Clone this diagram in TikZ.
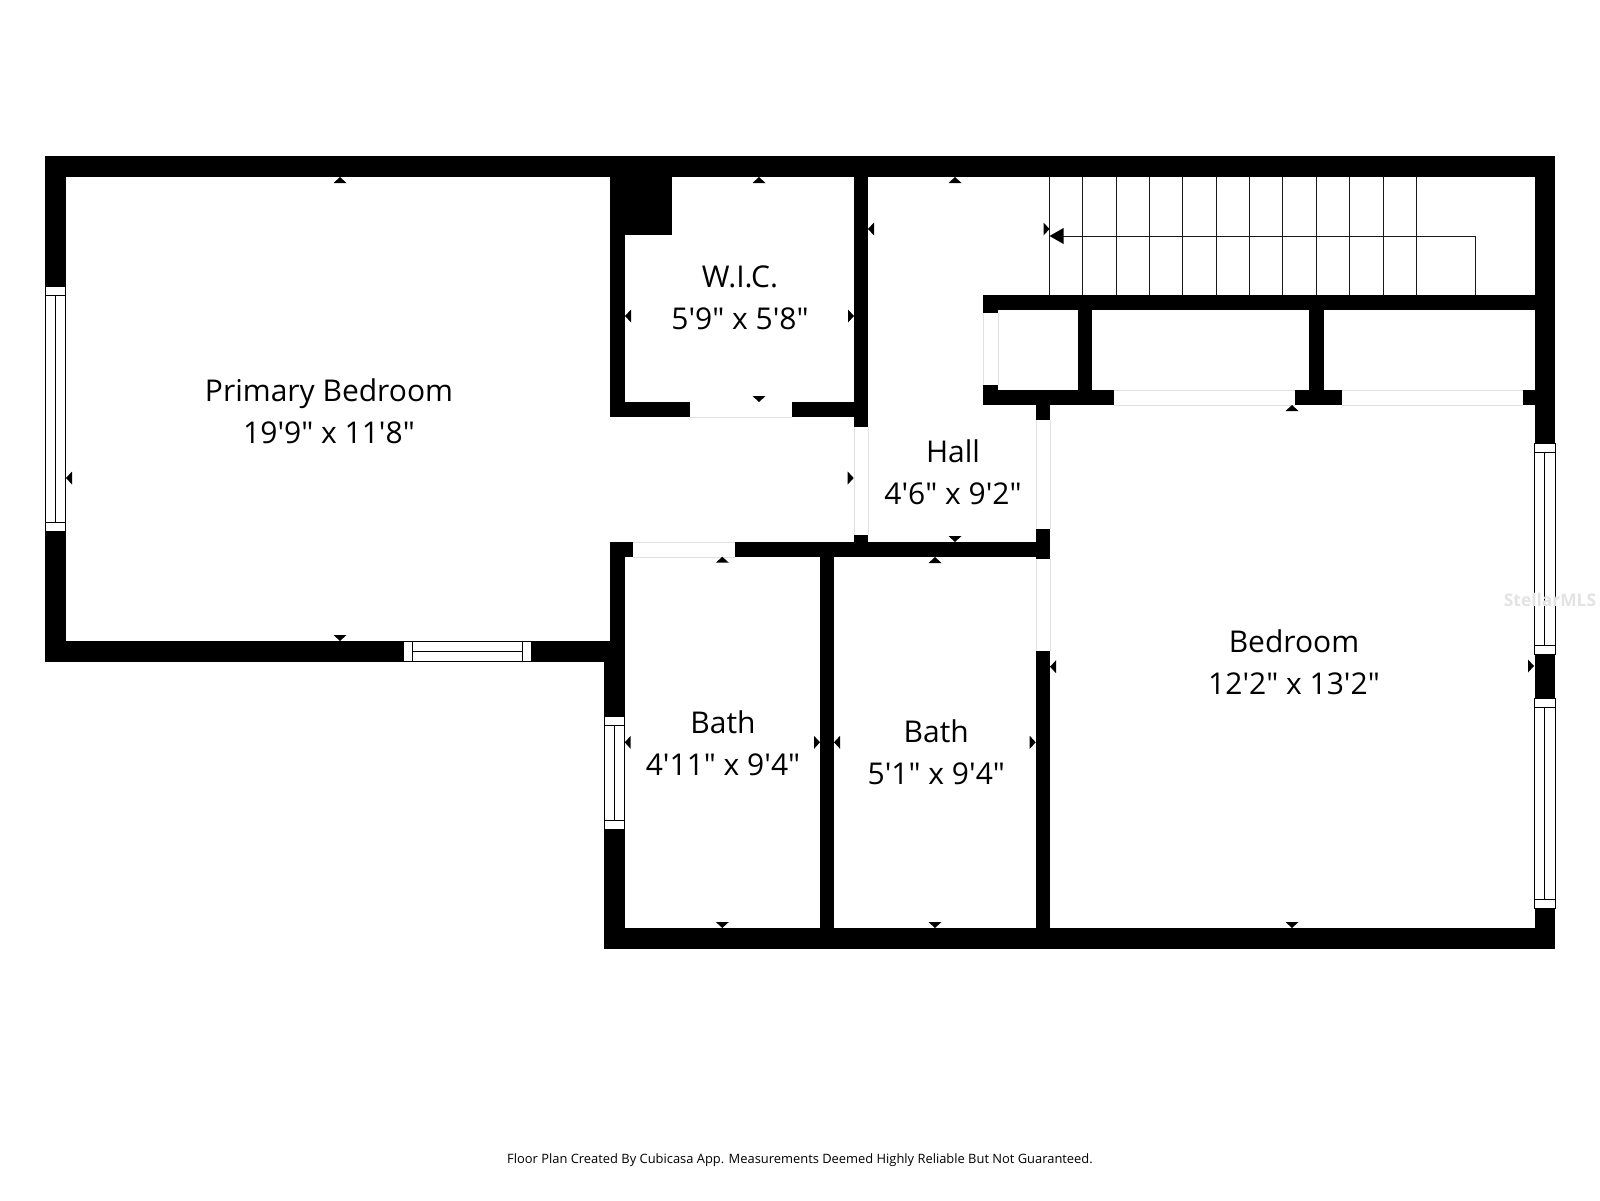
\documentclass[tikz,border=0pt]{standalone}
\usepackage{fontspec}
\newfontfamily\planfont{Open Sans}
\newcommand{\wall}[4]{\fill[wallfill] (#1,#2) rectangle (#3,#4);}
\newcommand{\winV}[4]{%
  \draw[winline,fill=white] (#1,#3) rectangle (#2,#4);
  \draw[winline] (#1,#3+9) -- (#2,#3+9) (#1,#4-9) -- (#2,#4-9) ({(#1+#2)/2},#3+9) -- ({(#1+#2)/2},#4-9);}
\newcommand{\winH}[4]{%
  \draw[winline,fill=white] (#1,#3) rectangle (#2,#4);
  \draw[winline] (#1+9,#3) -- (#1+9,#4) (#2-9,#3) -- (#2-9,#4) (#1+9,{(#3+#4)/2}) -- (#2-9,{(#3+#4)/2});}
\newcommand{\doorV}[4]{\draw[doorline] (#1,#3) -- (#1,#4) (#2,#3) -- (#2,#4);}
\newcommand{\doorH}[4]{\draw[doorline] (#1,#3) -- (#2,#3) (#1,#4) -- (#2,#4);}
\tikzset{
  wallfill/.style={fill=black},
  winline/.style={draw=black,line width=1pt},
  doorline/.style={draw=black!12,line width=0.8pt},
  stair/.style={draw=black!90,line width=1pt},
  roomlabel/.style={font=\planfont\fontsize{30}{42}\selectfont,align=center,inner sep=0pt,text=black},
  footer/.style={font=\planfont\fontsize{12.9}{16}\selectfont,inner sep=0pt,text=black},
  wmark/.style={font=\planfont\bfseries\fontsize{17.4}{20}\selectfont,inner sep=0pt,text=black!11}
}
\begin{document}
\begin{tikzpicture}[x=1pt,y=-1pt]
\useasboundingbox (0,0) rectangle (1600,1200);
\fill[white] (0,0) rectangle (1600,1200);
% stairs
\foreach \sx in {1049.5,1082.8,1116.1,1149.5,1182.8,1216.1,1249.5,1282.8,1316.1,1349.5,1383.1,1416.5}
  \draw[stair] (\sx,177) -- (\sx,295);
\draw[stair] (1475.5,295) -- (1475.5,236) -- (1060,236);
\fill[black] (1049.5,236) -- (1063.5,228) -- (1063.5,244) -- cycle;
% doors
\draw[doorline] (690,417) -- (792,417);
\doorV{854}{868}{427}{535}
\doorV{1036}{1050}{420}{529}
\doorV{1036}{1050}{559}{651}
\doorH{633}{735}{542}{557}
\doorV{983}{998}{313}{385}
\doorH{1114.4}{1295.4}{390}{405}
\doorH{1342}{1523}{390}{405}
% walls
\wall{45}{156}{1555}{177}
\wall{45}{156}{66}{286}
\wall{45}{531}{66}{661.5}
\wall{45}{641}{403.6}{661.5}
\wall{531}{641}{625}{661.5}
\wall{610}{177}{625}{417}
\wall{610}{177}{672}{235}
\wall{610}{402}{690}{417}
\wall{792}{402}{854}{417}
\wall{854}{156}{868}{427}
\wall{854}{535}{868}{557}
\wall{735}{542}{1036}{557}
\wall{610}{542}{633}{557}
\wall{610}{542}{625}{641}
\wall{604}{641}{625}{716}
\wall{604}{829}{625}{949}
\wall{604}{928}{1555}{949}
\wall{820}{542}{834}{949}
\wall{1036}{651}{1050}{949}
\wall{1036}{529}{1050}{559}
\wall{1036}{405}{1050}{420}
\wall{983}{295}{1555}{310}
\wall{983}{295}{998}{313}
\wall{983}{385}{998}{405}
\wall{983}{390}{1114.4}{405}
\wall{1078}{295}{1092}{405}
\wall{1309}{295}{1324}{405}
\wall{1295.4}{390}{1342}{405}
\wall{1523}{390}{1535}{405}
\wall{1535}{156}{1555}{443}
\wall{1535}{654}{1555}{698}
\wall{1535}{908.6}{1555}{949}
% windows
\winV{45.5}{65.6}{286}{531}
\winV{604.7}{624.5}{716}{829}
\winV{1534.7}{1555}{443}{654}
\winV{1534.7}{1555}{698}{908.6}
\winH{403.6}{531}{641}{661}
% dimension marks: apex on the wall
\foreach \mx/\my in {340/177,759/177,955/177,722.3/556.7,935/557,1292/405}
  \fill[black] (\mx,\my) -- (\mx-6.5,\my+6) -- (\mx+6.5,\my+6) -- cycle;
\foreach \mx/\my in {340/641,759/402,955/542,722.3/928,935/928,1292/928}
  \fill[black] (\mx,\my) -- (\mx-6.5,\my-6) -- (\mx+6.5,\my-6) -- cycle;
\foreach \mx/\my in {66/478,625/316,868/229,624.7/742.3,834/742.3,1050/666.7}
  \fill[black] (\mx,\my) -- (\mx+6,\my-6.5) -- (\mx+6,\my+6.5) -- cycle;
\foreach \mx/\my in {854/316,853.7/478,1049.5/229,820/742.3,1035.7/742.3,1534/666}
  \fill[black] (\mx,\my) -- (\mx-6,\my-6.5) -- (\mx-6,\my+6.5) -- cycle;
% labels
\node[roomlabel] (primary) at (329,413.7) {\strut Primary Bedroom\\\strut 19'9" x 11'8"};
\node[roomlabel] (wic) at (740,299.7) {\strut W.I.C.\\\strut 5'9" x 5'8"};
\node[roomlabel] (hall) at (953,475.4) {\strut Hall\\\strut 4'6" x 9'2"};
\node[roomlabel] (bathone) at (723,746) {\strut Bath\\\strut 4'11" x 9'4"};
\node[roomlabel] (bathtwo) at (936.3,755) {\strut Bath\\\strut 5'1" x 9'4"};
\node[roomlabel] (bedroom) at (1294,665) {\strut Bedroom\\\strut 12'2" x 13'2"};
\node[footer] (note) at (800,1160.5) {Floor Plan Created By Cubicasa App. Measurements Deemed Highly Reliable But Not Guaranteed.};
\node[wmark] (stellar) at (1550,600) {StellarMLS};
\end{tikzpicture}
\end{document}
